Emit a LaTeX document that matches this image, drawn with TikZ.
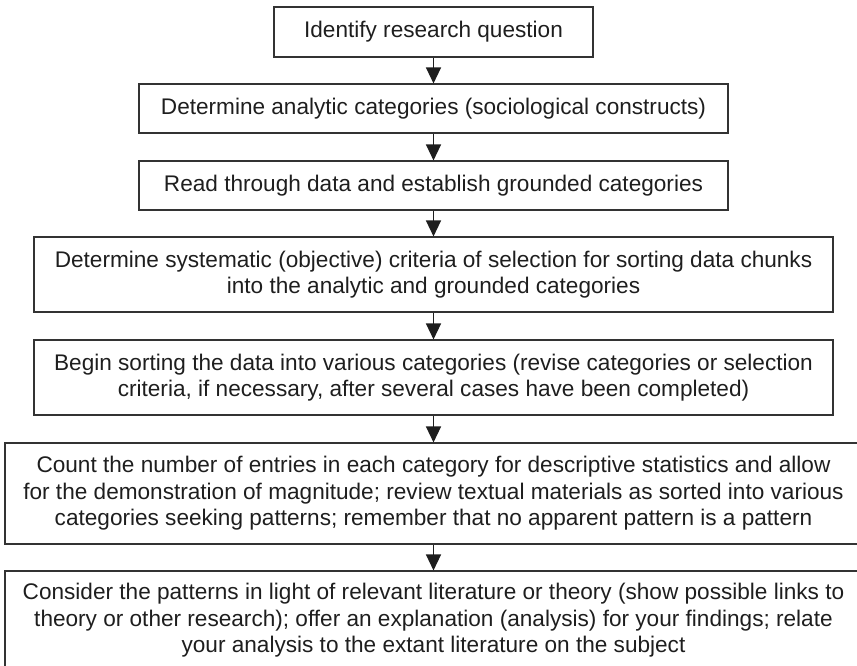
\documentclass[tikz,border=0pt]{standalone}
\usepackage{fontspec}
\setmainfont{Liberation Sans}
\usetikzlibrary{arrows.meta}
\definecolor{ink}{HTML}{1E1E1E}
\definecolor{frame}{HTML}{333333}
\tikzset{
  stepbox/.style={draw=frame, line width=1.1pt, text=ink, align=center, inner sep=0pt,
    font=\fontsize{22.6}{26.5}\selectfont},
  arr/.style={draw=ink, line width=1.3pt, -{Triangle[width=15pt,length=16pt]}}
}
\begin{document}
\begin{tikzpicture}[x=1pt,y=-1pt]
\useasboundingbox (0,0) rectangle (857,666);
\clip (0,0) rectangle (857,666);
\node[stepbox, minimum width=319, minimum height=50] (b1) at (433.5,32) {Identify research question};
\node[stepbox, minimum width=589, minimum height=49] (b2) at (433.5,108.5) {Determine analytic categories (sociological constructs)};
\node[stepbox, minimum width=589, minimum height=49] (b3) at (433.5,185.5) {Read through data and establish grounded categories};
\node[stepbox, minimum width=799, minimum height=75] (b4) at (433.5,274.5) {Determine systematic (objective) criteria of selection for sorting data chunks\\into the analytic and grounded categories};
\node[stepbox, minimum width=799, minimum height=75] (b5) at (433.5,377.5) {Begin sorting the data into various categories (revise categories or selection\\criteria, if necessary, after several cases have been completed)};
\node[stepbox, minimum width=857, minimum height=101] (b6) at (433.5,493.5) {Count the number of entries in each category for descriptive statistics and allow\\for the demonstration of magnitude; review textual materials as sorted into various\\categories seeking patterns; remember that no apparent pattern is a pattern};
\node[stepbox, minimum width=857, minimum height=99] (b7) at (433.5,620.5) {Consider the patterns in light of relevant literature or theory (show possible links to\\theory or other research); offer an explanation (analysis) for your findings; relate\\your analysis to the extant literature on the subject};
\draw[arr] (b1.south) -- (b2.north);
\draw[arr] (b2.south) -- (b3.north);
\draw[arr] (b3.south) -- (b4.north);
\draw[arr] (b4.south) -- (b5.north);
\draw[arr] (b5.south) -- (b6.north);
\draw[arr] (b6.south) -- (b7.north);
\end{tikzpicture}
\end{document}
